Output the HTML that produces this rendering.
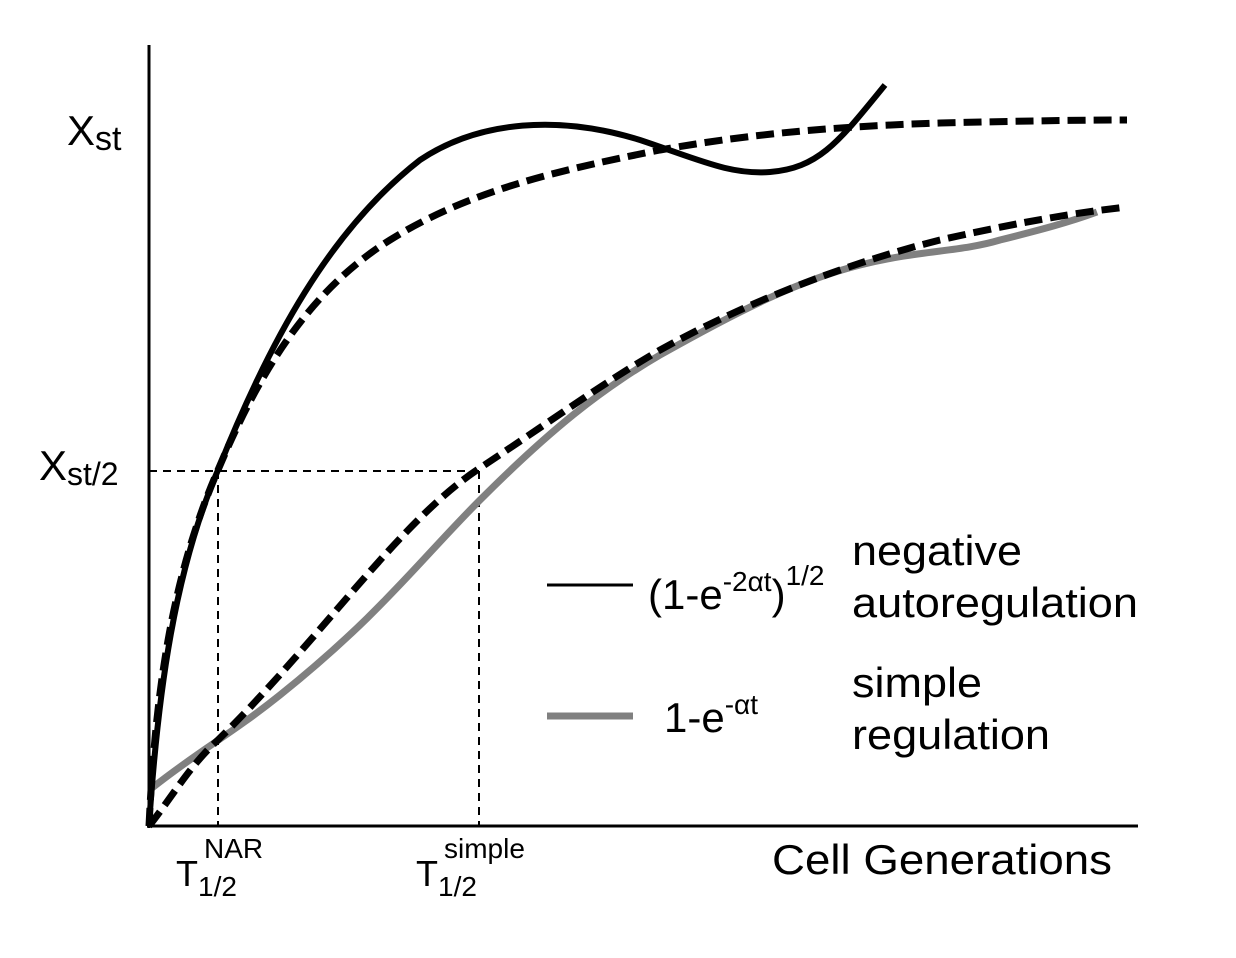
<!DOCTYPE html>
<html><head><style>body{margin:0;background:#fff}svg{display:block}</style></head><body>
<svg width="1236" height="958" viewBox="0 0 1236 958" xmlns="http://www.w3.org/2000/svg" font-family="Liberation Sans, sans-serif">
<rect width="1236" height="958" fill="#fff"/>
<line x1="149" y1="45" x2="149" y2="828" stroke="#000" stroke-width="3"/>
<line x1="147" y1="826" x2="1138" y2="826" stroke="#000" stroke-width="3"/>
<g stroke="#000" stroke-width="2" stroke-dasharray="8,6" fill="none">
<line x1="149" y1="471" x2="480" y2="471"/>
<line x1="218" y1="471" x2="218" y2="826"/>
<line x1="479" y1="471" x2="479" y2="826"/>
</g>
<path d="M152,788 C200,750 230,735 280,695 C380,615 420,560 480,500 C550,430 600,390 660,355 C740,310 800,280 860,265 C920,250 960,252 1000,240 C1040,230 1070,222 1097,212" stroke="#808080" stroke-width="7" fill="none"/>
<path d="M149,826 C170,800 190,765 218,740 C320,640 400,520 480,468 C560,415 600,385 660,350 C760,295 860,260 940,240 C1020,222 1080,212 1127,207" stroke="#000" stroke-width="7" stroke-dasharray="18,8" fill="none"/>
<path d="M149,826 C155,700 170,580 218,470 C260,370 310,290 390,240 C470,190 560,170 660,150 C760,132 850,126 940,123 C1020,121 1080,120 1127,120" stroke="#000" stroke-width="7" stroke-dasharray="18,8" fill="none"/>
<path d="M149,826 C158,690 175,570 218,470 C270,340 330,230 420,160 C480,120 560,115 640,140 C700,160 730,175 770,172 C820,168 840,140 885,85" stroke="#000" stroke-width="6" fill="none"/>
<text x="67" y="145" font-size="42">X<tspan font-size="34" dy="5">st</tspan></text>
<text x="39" y="480" font-size="42">X<tspan font-size="32" dy="5">st/2</tspan></text>
<line x1="547" y1="585" x2="633" y2="585" stroke="#000" stroke-width="3"/>
<line x1="547" y1="716" x2="633" y2="716" stroke="#808080" stroke-width="7"/>
<text x="648" y="609" font-size="42">(1-e<tspan font-size="28" dy="-18">-2αt</tspan><tspan dy="18">)</tspan><tspan font-size="28" dy="-24">1/2</tspan></text>
<text x="852" y="565" font-size="42" textLength="170" lengthAdjust="spacingAndGlyphs">negative</text>
<text x="852" y="617" font-size="42" textLength="286" lengthAdjust="spacingAndGlyphs">autoregulation</text>
<text x="664" y="732" font-size="42">1-e<tspan font-size="28" dy="-18">-αt</tspan></text>
<text x="852" y="697" font-size="42" textLength="130" lengthAdjust="spacingAndGlyphs">simple</text>
<text x="852" y="749" font-size="42" textLength="198" lengthAdjust="spacingAndGlyphs">regulation</text>
<text x="176" y="886" font-size="36">T<tspan font-size="28" dy="10">1/2</tspan></text>
<text x="204" y="858" font-size="28">NAR</text>
<text x="416" y="886" font-size="36">T<tspan font-size="28" dy="10">1/2</tspan></text>
<text x="444" y="858" font-size="28">simple</text>
<text x="772" y="874" font-size="42" textLength="340" lengthAdjust="spacingAndGlyphs">Cell Generations</text>
</svg>
</body></html>
